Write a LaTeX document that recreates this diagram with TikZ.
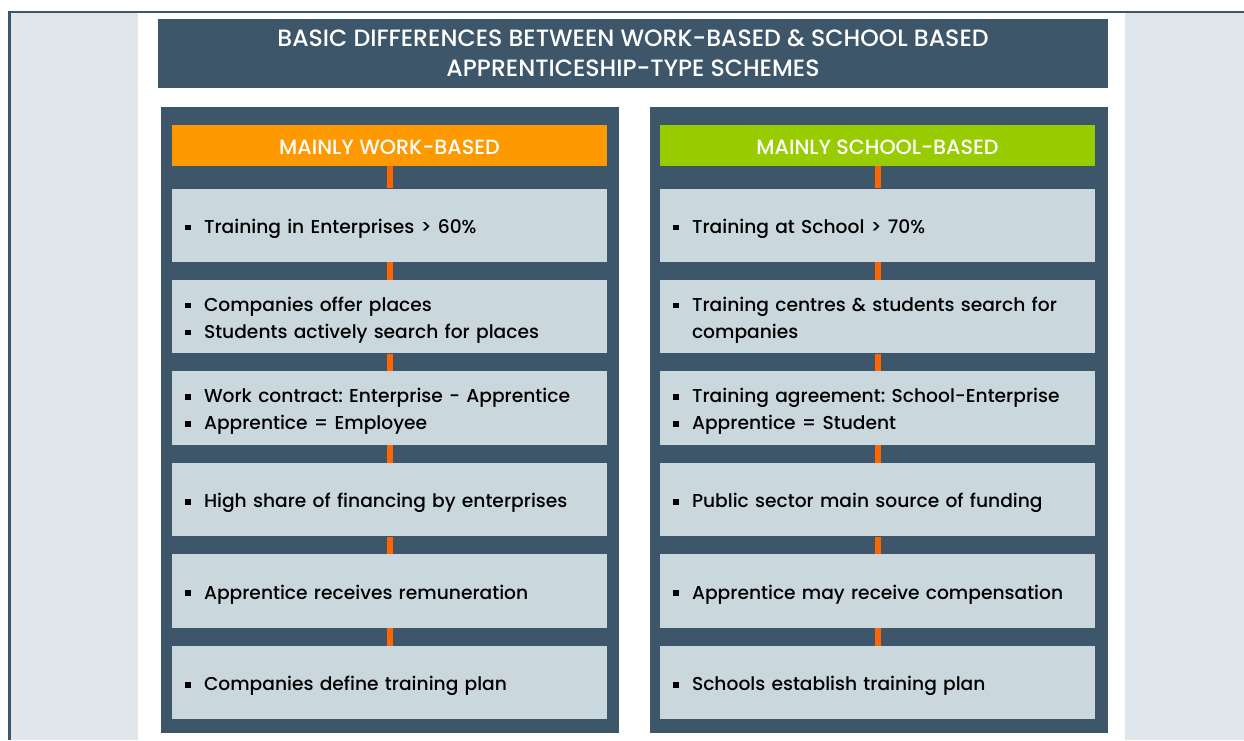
\documentclass[tikz,border=0pt]{standalone}
\usepackage{fontspec}
\setmainfont{Poppins Medium}
\usepackage{xcolor}
\definecolor{Slate}{HTML}{3D566A}
\definecolor{Mist}{HTML}{DFE6EC}
\definecolor{Frost}{HTML}{CAD8DE}
\definecolor{Amber}{HTML}{FF9900}
\definecolor{Lime}{HTML}{99CC00}
\definecolor{Flame}{HTML}{FF6600}
\colorlet{cDark}{Slate}
\colorlet{cSide}{Mist}
\colorlet{cBox}{Frost}
\colorlet{cWork}{Amber}
\colorlet{cSchool}{Lime}
\colorlet{cLink}{Flame}
\usepackage{tikz}
\usetikzlibrary{positioning}
\tikzset{
	node distance = 13.1pt,
	panel/.style={
		fill=cDark,
		minimum width=343.5pt,
		minimum height=469.5pt,
		inner sep=0pt
	},
	header/.style={
		fill=#1,
		text=white,
		minimum width=326.25pt,
		minimum height=30.75pt,
		inner sep=0pt,
		text height=14.2pt,
		text depth=0pt,
		font=\fontsize{15.5}{17}\selectfont
	},
	item/.style={
		fill=cBox,
		text width=306.75pt,
		inner xsep=9.75pt,
		inner ysep=0pt,
		minimum height=55.1pt,
		align=left,
		execute at begin node={\rule{0pt}{16.4pt}},
		execute at end node={\rule[-4pt]{0pt}{4pt}},
		font=\fontsize{14}{20.25}\selectfont
	},
	link/.style={
		draw=cLink,
		line width=4.5pt
	}
}
\newcommand{\itm}[1]{\makebox[14.25pt][l]{\rule[2.3pt]{4.4pt}{4.4pt}}#1}
\frenchspacing

\begin{document}
\begin{tikzpicture}[x=0.75pt, y=-0.75pt]
	\useasboundingbox (0,0) rectangle (1244,740);
	% frame and side bands
	\fill[cDark] (8,11) rectangle (1244,740);
	\fill[cSide] (11,13) rectangle (138,740);
	\fill[white] (138,13) rectangle (1125,740);
	\fill[cSide] (1125,13) rectangle (1244,740);

	\node (title) [fill=cDark, text=white, minimum width=712.5pt, minimum height=51.75pt, inner sep=0pt, align=center, font=\fontsize{17.7}{22.5}\selectfont] at (633,53) {BASIC DIFFERENCES BETWEEN WORK-BASED \& SCHOOL BASED\\APPRENTICESHIP-TYPE SCHEMES};

	\node (pw) [panel] at (390,420) {};
	\node (ps) [panel] at (879,420) {};

	\node (hw) [header=cWork] at (389.5,145.5) {MAINLY WORK-BASED};
	\node (w1) [item, below=16.5pt of hw] {\itm{Training in Enterprises > 60\%}};
	\node (w2) [item, below=of w1] {\itm{Companies offer places}\\\itm{Students actively search for places}};
	\node (w3) [item, below=of w2] {\itm{Work contract: Enterprise - Apprentice}\\\itm{Apprentice = Employee}};
	\node (w4) [item, below=of w3] {\itm{High share of financing by enterprises}};
	\node (w5) [item, below=of w4] {\itm{Apprentice receives remuneration}};
	\node (w6) [item, below=of w5] {\itm{Companies define training plan}};

	\node (hs) [header=cSchool] at (877.5,145.5) {MAINLY SCHOOL-BASED};
	\node (s1) [item, below=16.5pt of hs] {\itm{Training at School > 70\%}};
	\node (s2) [item, below=of s1] {\itm{Training centres \& students search for}\\\hspace*{14.25pt}companies};
	\node (s3) [item, below=of s2] {\itm{Training agreement: School-Enterprise}\\\itm{Apprentice = Student}};
	\node (s4) [item, below=of s3] {\itm{Public sector main source of funding}};
	\node (s5) [item, below=of s4] {\itm{Apprentice may receive compensation}};
	\node (s6) [item, below=of s5] {\itm{Schools establish training plan}};

	\draw[link] (hw) edge (w1) (w1) edge (w2) (w2) edge (w3)
		(w3) edge (w4) (w4) edge (w5) (w5) edge (w6);
	\draw[link] (hs) edge (s1) (s1) edge (s2) (s2) edge (s3)
		(s3) edge (s4) (s4) edge (s5) (s5) edge (s6);
\end{tikzpicture}
\end{document}
